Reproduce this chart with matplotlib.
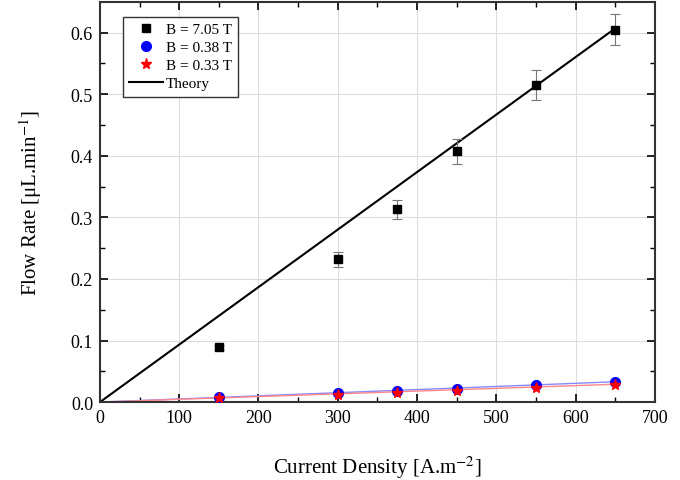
import matplotlib
matplotlib.use("Agg")
import matplotlib.pyplot as plt
import numpy as np

plt.rcParams['font.family'] = ['Liberation Serif', 'DejaVu Serif']
plt.rcParams['mathtext.fontset'] = 'stix'

current = [150, 300, 375, 450, 550, 650]
flow_705 = [0.089, 0.232, 0.313, 0.407, 0.515, 0.605]
err_705 = [0.004, 0.012, 0.016, 0.021, 0.025, 0.025]
flow_038 = [0.009, 0.015, 0.018, 0.022, 0.027, 0.032]
flow_033 = [0.006, 0.012, 0.015, 0.018, 0.023, 0.028]
theory_x = [0, 650]
theory_705 = [0, 0.607]
theory_038 = [0, 0.033]
theory_033 = [0, 0.029]

fig = plt.figure(figsize=(6.8, 4.81), dpi=100)
ax = fig.add_axes([0.147, 0.162, 0.816, 0.832])

ax.plot(theory_x, theory_038, color='#8888ff', lw=1.0, zorder=2)
ax.plot(theory_x, theory_033, color='#ff8888', lw=1.0, zorder=2)
ax.plot(theory_x, theory_705, color='black', lw=1.5, zorder=2, label='Theory')
ax.errorbar(current, flow_705, yerr=err_705, fmt='none', ecolor='#777777', elinewidth=0.8, capsize=3.5, capthick=0.8, zorder=3)
ax.plot(current, flow_705, 's', color='black', ms=6, zorder=4, label='B = 7.05 T')
ax.plot(current, flow_038, 'o', color='blue', ms=7, zorder=4, label='B = 0.38 T')
ax.plot(current, flow_033, '*', color='red', ms=8, zorder=5, label='B = 0.33 T')

ax.set_xlim(0, 700)
ax.set_ylim(0, 0.65)
ax.set_xticks(np.arange(0, 701, 100))
ax.set_yticks(np.arange(0, 0.61, 0.1))
ax.set_xticks(np.arange(50, 700, 100), minor=True)
ax.set_yticks(np.arange(0.05, 0.65, 0.1), minor=True)
ax.set_yticklabels(['0.0', '0.1', '0.2', '0.3', '0.4', '0.5', '0.6'])
ax.grid(True, which='major', color='#dddddd', lw=0.8)
ax.tick_params(which='both', direction='in', top=True, right=True, labelsize=13)
ax.tick_params(which='major', length=6, width=1.2, pad=5)
ax.tick_params(which='minor', length=3.5, width=1.0)
for s in ax.spines.values():
    s.set_linewidth(1.5)
    s.set_color('#333333')

ax.set_xlabel('Current Density [A.m$^{-2}$]', fontsize=15, labelpad=20)
ax.set_ylabel('Flow Rate [μL.min$^{-1}$]', fontsize=15, labelpad=19)

h, l = ax.get_legend_handles_labels()
order = [1, 2, 3, 0]
leg = ax.legend([h[i] for i in order], [l[i] for i in order], loc='upper left',
                bbox_to_anchor=(0.042, 0.963), fontsize=11, fancybox=False,
                edgecolor='#333333', framealpha=1, handlelength=2.2,
                borderpad=0.4, labelspacing=0.28, handletextpad=0.2,
                borderaxespad=0.0)
leg.get_frame().set_linewidth(1.0)

fig.savefig('out.png', dpi=100)
